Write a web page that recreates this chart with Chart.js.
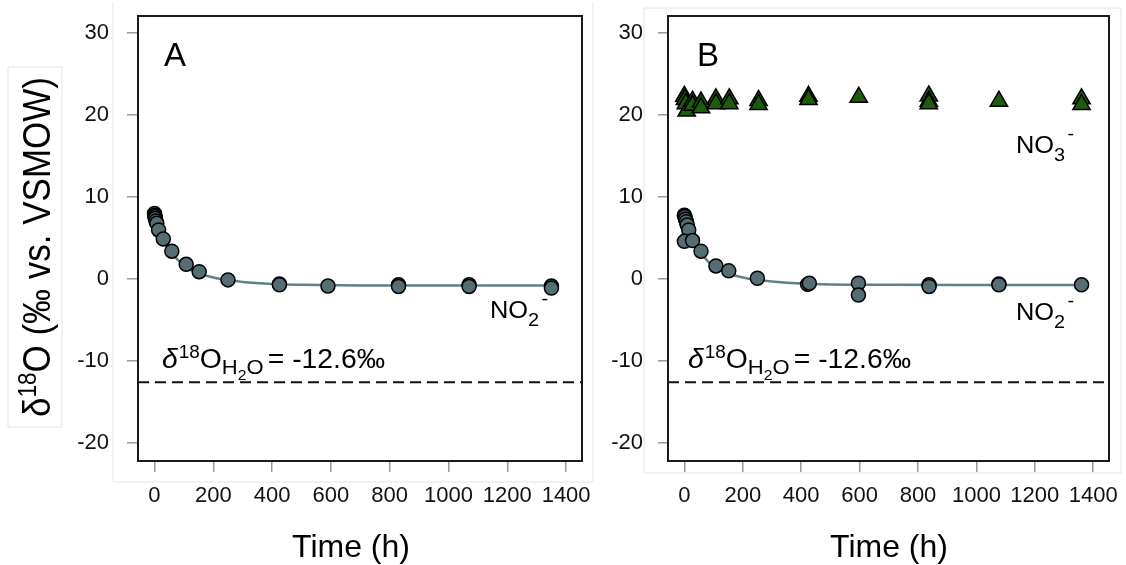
<!DOCTYPE html>
<html>
<head>
<meta charset="utf-8">
<script src="https://cdn.jsdelivr.net/npm/chart.js@4.4.0/dist/chart.umd.min.js"></script>
<style>
  body { margin: 0; background: #fff; width: 1126px; height: 565px; overflow: hidden; position: relative; }
  canvas { position: absolute; top: 0; }
  #chartA { left: 0; }
  #chartB { left: 590px; }
</style>
</head>
<body>
<canvas id="chartA" width="600" height="565"></canvas>
<canvas id="chartB" width="536" height="565"></canvas>
<script>
const FONT = "'Liberation Sans', Arial, sans-serif";

// axes
const xTicks = [0, 200, 400, 600, 800, 1000, 1200, 1400];
const yTicks = [-20, -10, 0, 10, 20, 30];
const X_MIN = -56, X_MAX = 1454, Y_MIN = -22.2, Y_MAX = 32.1;

// panel A - nitrite
const timeA = [0, 1, 2, 3, 5, 8, 14, 30, 59, 108, 152, 250, 425, 425, 590, 830, 830, 1070, 1070, 1350, 1350];
const no2A  = [8.0, 7.8, 7.6, 7.4, 7.1, 6.8, 6.0, 4.9, 3.4, 1.8, 0.9, -0.1, -0.6, -0.7, -0.85, -0.7, -0.9, -0.7, -0.9, -0.85, -1.1];

// panel B - nitrite and nitrate
const timeB = [0, 2, 4, 7, 10, 15, 0, 28, 57, 108, 152, 250, 422, 428, 596, 596, 838, 838, 1077, 1077, 1360];
const no2B  = [7.8, 7.6, 7.3, 7.0, 6.6, 6.0, 4.6, 4.7, 3.4, 1.6, 1.0, 0.1, -0.65, -0.5, -0.5, -1.95, -0.7, -0.9, -0.6, -0.7, -0.7];
const timeB3 = [0, 2, 5, 8, 28, 28, 57, 57, 108, 108, 154, 154, 254, 254, 425, 425, 597, 837, 837, 837, 1077, 1360, 1360];
const no3B   = [22.3, 21.9, 21.4, 20.5, 21.7, 21.2, 21.6, 20.9, 22.0, 21.4, 22.0, 21.4, 21.8, 21.3, 22.3, 21.9, 22.2, 22.35, 21.7, 21.4, 21.7, 22.0, 21.3];

// fitted curves
const fitTimeA = [0, 5, 10, 20, 30, 45, 60, 80, 100, 125, 150, 200, 250, 300, 400, 500, 700, 1000, 1350];
const fitA     = [7.9, 7.4, 6.9, 5.9, 5.0, 4.0, 3.2, 2.3, 1.7, 1.1, 0.7, 0.2, -0.1, -0.35, -0.6, -0.7, -0.78, -0.8, -0.8];
const fitTimeB = [0, 5, 10, 20, 30, 45, 60, 80, 100, 125, 150, 200, 250, 300, 400, 500, 700, 1000, 1360];
const fitB     = [7.6, 7.1, 6.6, 5.7, 4.9, 3.9, 3.1, 2.2, 1.6, 1.1, 0.7, 0.2, -0.1, -0.3, -0.55, -0.65, -0.7, -0.72, -0.72];

const waterD18O = -12.6;

const NO2_FILL = '#566d75';
const FIT_COLOR = '#60808a';
const NO3_FILL = '#1d5c0c';

function pts(xs, ys) {
  return xs.map(function (x, i) { return { x: x, y: ys[i] }; });
}

function drawParts(ctx, x, y, parts) {
  parts.forEach(function (p) {
    ctx.font = (p.it ? 'italic ' : '') + p.size + 'px ' + FONT;
    ctx.fillText(p.t, x, y + (p.dy || 0));
    x += ctx.measureText(p.t).width + (p.gap || 0);
  });
  return x;
}

function partsWidth(ctx, parts) {
  var w = 0;
  parts.forEach(function (p) {
    ctx.font = (p.it ? 'italic ' : '') + p.size + 'px ' + FONT;
    w += ctx.measureText(p.t).width + (p.gap || 0);
  });
  return w;
}

// draw parts squeezed/stretched to a given width
function drawFit(ctx, x, y, parts, width) {
  var w = partsWidth(ctx, parts);
  ctx.save();
  ctx.translate(x, y);
  ctx.scale(width / w, 1);
  drawParts(ctx, 0, 0, parts);
  ctx.restore();
}

const waterParts = [
  { t: 'δ', size: 27, it: true, gap: 1 },
  { t: '18', size: 18, dy: -10 },
  { t: 'O', size: 27 },
  { t: 'H', size: 21, dy: 6 },
  { t: '2', size: 15, dy: 12 },
  { t: 'O', size: 21, dy: 6, gap: 4 },
  { t: '= -12.6‰', size: 27 }
];
function ionParts(n) {
  return [
    { t: 'NO', size: 23 },
    { t: n, size: 18, dy: 8, gap: 2 },
    { t: '-', size: 18, dy: -13 }
  ];
}
const yTitleParts = [
  { t: 'δ', size: 39 },
  { t: '18', size: 25, dy: -14 },
  { t: 'O (‰ vs. VSMOW)', size: 39 }
];

function makePanel(id, cfg) {
  var datasets = [];
  cfg.points.forEach(function (s) {
    datasets.push({
      data: s.data,
      pointStyle: s.style,
      pointRadius: s.r,
      pointBackgroundColor: s.fill,
      pointBorderColor: '#000',
      pointBorderWidth: 1.5,
      showLine: false,
      order: 0
    });
  });
  cfg.fits.forEach(function (f) {
    datasets.push({
      data: f,
      showLine: true,
      borderColor: FIT_COLOR,
      borderWidth: 2.5,
      pointRadius: 0,
      cubicInterpolationMode: 'monotone',
      order: 1
    });
  });
  datasets.push({
    data: [{ x: X_MIN, y: waterD18O }, { x: X_MAX, y: waterD18O }],
    showLine: true,
    borderColor: '#111',
    borderWidth: 2,
    borderDash: [11, 6],
    pointRadius: 0,
    order: 2
  });

  var decor = {
    id: 'decor',
    afterDraw: function (chart) {
      var ctx = chart.ctx, a = chart.chartArea;
      ctx.save();
      // faint frames
      ctx.strokeStyle = '#e4e4e4';
      ctx.lineWidth = 1;
      cfg.frames.forEach(function (f) {
        ctx.beginPath();
        f.forEach(function (p, i) { i ? ctx.lineTo(p[0], p[1]) : ctx.moveTo(p[0], p[1]); });
        ctx.stroke();
      });
      // plot box
      ctx.strokeStyle = '#1a1a1a';
      ctx.lineWidth = 2;
      ctx.strokeRect(a.left, a.top, a.right - a.left, a.bottom - a.top);

      ctx.fillStyle = '#000';
      ctx.textBaseline = 'alphabetic';
      ctx.textAlign = 'left';
      ctx.font = '33px ' + FONT;
      ctx.fillText(cfg.letter, cfg.letterPos[0], cfg.letterPos[1]);

      drawFit(ctx, cfg.waterPos[0], cfg.waterPos[1], waterParts, 223);
      cfg.ions.forEach(function (ion) {
        drawFit(ctx, ion.pos[0], ion.pos[1], ionParts(ion.n), 58);
      });

      ctx.font = '32px ' + FONT;
      ctx.textAlign = 'center';
      ctx.fillText('Time (h)', cfg.timePos[0], cfg.timePos[1]);
      ctx.textAlign = 'left';

      if (cfg.yTitle) {
        ctx.translate(cfg.yTitle[0], cfg.yTitle[1]);
        ctx.rotate(-Math.PI / 2);
        drawFit(ctx, 0, 0, yTitleParts, cfg.yTitle[2]);
      }
      ctx.restore();
    }
  };

  return new Chart(document.getElementById(id), {
    type: 'scatter',
    data: { datasets: datasets },
    options: {
      responsive: false,
      animation: false,
      layout: { padding: { left: 0, top: 16, right: cfg.padRight, bottom: 0 } },
      plugins: { legend: { display: false }, tooltip: { enabled: false } },
      scales: {
        x: {
          type: 'linear',
          min: X_MIN,
          max: X_MAX,
          afterBuildTicks: function (s) { s.ticks = xTicks.map(function (v) { return { value: v }; }); },
          afterFit: function (s) {
            s.height = 104;
            s.paddingLeft = 0; s.paddingRight = 0;
          },
          border: { display: false },
          grid: { drawOnChartArea: false, drawTicks: true, tickLength: 11, color: '#999', lineWidth: 1.5 },
          ticks: {
            color: '#111', font: { size: 22, family: FONT }, padding: 11, maxRotation: 0, autoSkip: false,
            callback: function (v) { return String(v); }
          }
        },
        y: {
          type: 'linear',
          min: Y_MIN,
          max: Y_MAX,
          afterBuildTicks: function (s) { s.ticks = yTicks.map(function (v) { return { value: v }; }); },
          afterFit: function (s) {
            s.width = cfg.yWidth;
            s.paddingTop = 0; s.paddingBottom = 0;
          },
          border: { display: false },
          grid: { drawOnChartArea: false, drawTicks: true, tickLength: cfg.yTick, color: '#999', lineWidth: 1.5 },
          ticks: {
            color: '#111', font: { size: 22, family: FONT }, padding: cfg.yPad, autoSkip: false,
            callback: function (v) { return String(v); }
          }
        }
      }
    },
    plugins: [decor]
  });
}

makePanel('chartA', {
  points: [{ data: pts(timeA, no2A), style: 'circle', r: 7, fill: NO2_FILL }],
  fits: [pts(fitTimeA, fitA)],
  padRight: 18, yWidth: 138, yTick: 11, yPad: 18,
  letter: 'A', letterPos: [164, 66],
  waterPos: [162, 368],
  ions: [{ n: '2', pos: [490, 318] }],
  timePos: [351, 557],
  yTitle: [50, 417, 340],
  frames: [
    [[113, 3], [113, 482], [593, 482], [593, 3]],
    [[8, 67], [62, 67], [62, 427], [8, 427], [8, 67]]
  ]
});

makePanel('chartB', {
  points: [
    { data: pts(timeB3, no3B), style: 'triangle', r: 10, fill: NO3_FILL },
    { data: pts(timeB, no2B), style: 'circle', r: 7, fill: NO2_FILL }
  ],
  fits: [pts(fitTimeB, fitB)],
  padRight: 17, yWidth: 78, yTick: 10, yPad: 15,
  letter: 'B', letterPos: [697 - 590, 66],
  waterPos: [688 - 590, 368],
  ions: [{ n: '3', pos: [1016 - 590, 153] }, { n: '2', pos: [1016 - 590, 320] }],
  timePos: [889 - 590, 557],
  yTitle: null,
  frames: [
    [[644 - 590, 473], [644 - 590, 8], [1121 - 590, 8], [1121 - 590, 473], [644 - 590, 473]]
  ]
});
</script>
</body>
</html>
